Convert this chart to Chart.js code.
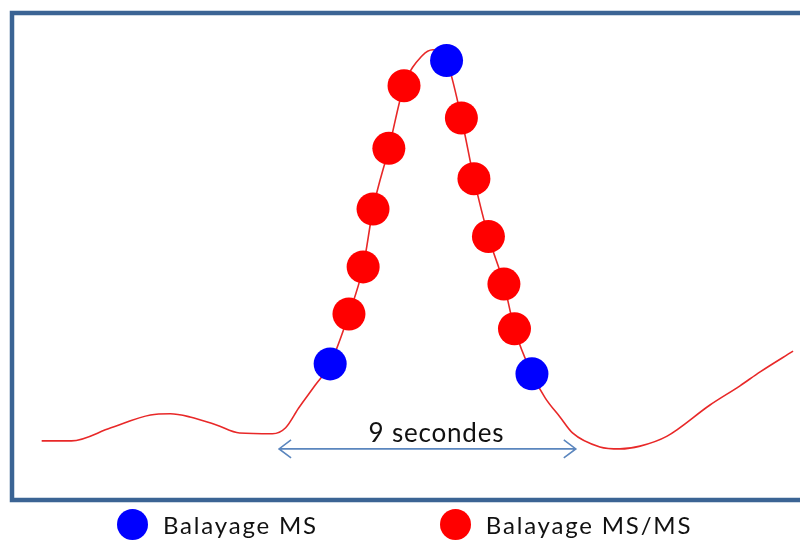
<!DOCTYPE html>
<html lang="fr">
<head>
<meta charset="utf-8">
<title>Balayage MS / MS/MS</title>
<script src="https://cdn.jsdelivr.net/npm/chart.js"></script>
<style>
  html, body { margin: 0; padding: 0; background: #fff; }
  #wrap { position: relative; width: 800px; height: 541px; overflow: hidden; }
  #legend {
    position: absolute; left: 117px; top: 508px; height: 32px;
    display: flex; align-items: center;
    font-family: Lato, "Open Sans", sans-serif; font-size: 24px;
    letter-spacing: 1.8px; color: #111;
  }
  #legend .item { display: flex; align-items: center; }
  #legend .item + .item { margin-left: 122px; }
  #legend .dot { width: 31px; height: 31px; border-radius: 50%; margin-right: 15px; }
</style>
</head>
<body>
<div id="wrap">
  <canvas id="myChart" width="800" height="541"></canvas>
  <div id="legend"></div>
</div>
<script>
// chromatogram trace (time in s, relative intensity)
const traceTimes = [0.0, 0.9, 2.1, 3.3, 3.9, 4.5, 5.3, 6.0, 7.0, 7.4, 7.8, 8.3,
  8.75, 9.32, 9.75, 10.05, 10.53, 10.99, 11.54, 11.87, 12.28, 12.73, 13.11, 13.55,
  14.02, 14.34, 14.87, 15.27, 15.72, 16.1, 16.93, 17.54, 18.15, 18.97, 20.27,
  21.18, 21.79, 22.79];
const traceSignal = [2.0, 2.0, 5.3, 8.5, 8.8, 8.0, 6.0, 4.0, 3.8, 5.3, 10.3, 16.0,
  21.3, 33.8, 45.6, 60.1, 75.3, 91.0, 98.5, 100, 97.3, 82.9, 67.7, 53.2,
  41.3, 30.1, 18.8, 12.8, 8.0, 4.0, 0.5, 0.0, 0.7, 3.2, 11.0,
  15.8, 19.3, 24.5];

// scans
const msTimes = [8.75, 12.28, 14.87];
const msSignal = [21.3, 97.3, 18.8];
const msmsTimes = [9.32, 9.75, 10.05, 10.53, 10.99, 12.73, 13.11, 13.55, 14.02, 14.34];
const msmsSignal = [33.8, 45.6, 60.1, 75.3, 91.0, 82.9, 67.7, 53.2, 41.3, 30.1];

const seriesLabels = ["Balayage MS", "Balayage MS/MS"];
const peakWidth = [7.2, 16.2]; // 9 s
const peakWidthLabel = "9 secondes";

const toPoints = (xs, ys) => xs.map((x, i) => ({ x: x, y: ys[i] }));

const framePlugin = {
  id: "frame",
  beforeDraw(chart) {
    const { ctx, chartArea } = chart;
    ctx.save();
    ctx.strokeStyle = "#3b6494";
    ctx.lineWidth = 4.5;
    ctx.strokeRect(chartArea.left, chartArea.top, chartArea.width + 20, chartArea.height);
    ctx.restore();
  },
};

const arrowPlugin = {
  id: "widthArrow",
  afterDatasetsDraw(chart) {
    const { ctx, scales } = chart;
    const x1 = scales.x.getPixelForValue(peakWidth[0]);
    const x2 = scales.x.getPixelForValue(peakWidth[1]);
    const y = scales.y.getPixelForValue(0);
    ctx.save();
    ctx.strokeStyle = "#5b86be";
    ctx.lineWidth = 1.6;
    ctx.beginPath();
    ctx.moveTo(x1, y);
    ctx.lineTo(x2, y);
    ctx.moveTo(x1 + 12, y - 9);
    ctx.lineTo(x1, y);
    ctx.lineTo(x1 + 12, y + 9);
    ctx.moveTo(x2 - 12, y - 9);
    ctx.lineTo(x2, y);
    ctx.lineTo(x2 - 12, y + 9);
    ctx.stroke();
    ctx.fillStyle = "#111";
    ctx.font = "26px Lato, 'Open Sans', sans-serif";
    if ("letterSpacing" in ctx) ctx.letterSpacing = "0.8px";
    ctx.textAlign = "center";
    ctx.textBaseline = "alphabetic";
    ctx.fillText(peakWidthLabel, (x1 + x2) / 2 + 9, y - 7);
    ctx.restore();
  },
};

const ctx = document.getElementById("myChart").getContext("2d");
const myChart = new Chart(ctx, {
  type: "line",
  data: {
    datasets: [
      {
        label: seriesLabels[0],
        data: toPoints(msTimes, msSignal),
        showLine: false,
        pointRadius: 16.5,
        pointBorderWidth: 0,
        backgroundColor: "#0000ff",
        borderColor: "#0000ff",
        order: 0,
      },
      {
        label: seriesLabels[1],
        data: toPoints(msmsTimes, msmsSignal),
        showLine: false,
        pointRadius: 16.5,
        pointBorderWidth: 0,
        backgroundColor: "#ff0000",
        borderColor: "#ff0000",
        order: 1,
      },
      {
        label: "trace",
        data: toPoints(traceTimes, traceSignal),
        borderColor: "rgb(232, 40, 40)",
        borderWidth: 1.6,
        pointRadius: 0,
        cubicInterpolationMode: "monotone",
        fill: false,
        order: 2,
      },
    ],
  },
  options: {
    responsive: false,
    animation: false,
    events: [],
    layout: { autoPadding: false, padding: { left: 12, top: 13, right: 0, bottom: 41 } },
    scales: {
      x: { type: "linear", min: -0.9, max: 23.0, display: false },
      y: { min: -12.8, max: 109.2, display: false },
    },
    plugins: {
      legend: { display: false },
      tooltip: { enabled: false },
    },
  },
  plugins: [framePlugin, arrowPlugin],
});

// legend below the frame, built from the scan datasets
const legendEl = document.getElementById("legend");
myChart.data.datasets.slice(0, 2).forEach((ds) => {
  const item = document.createElement("div");
  item.className = "item";
  const dot = document.createElement("span");
  dot.className = "dot";
  dot.style.background = ds.backgroundColor;
  const text = document.createElement("span");
  text.textContent = ds.label;
  item.appendChild(dot);
  item.appendChild(text);
  legendEl.appendChild(item);
});
</script>
</body>
</html>
